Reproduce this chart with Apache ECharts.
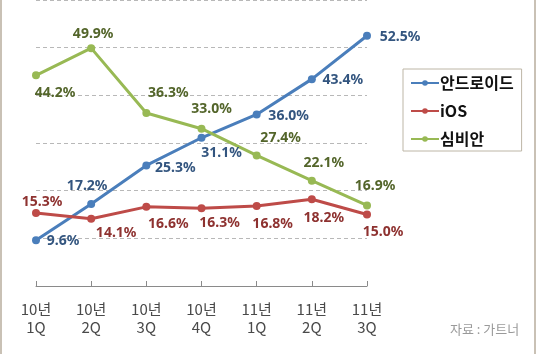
<!DOCTYPE html>
<html>
<head>
<meta charset="utf-8">
<script src="https://cdn.jsdelivr.net/npm/echarts@6/dist/echarts.min.js"></script>
<style>
    html, body { margin: 0; padding: 0; background: #ffffff; }
    #chart { width: 537px; height: 354px; }
</style>
</head>
<body>
<div id="chart"></div>
<script>
// quarters on the x axis
var quarters = ['10년\n1Q', '10년\n2Q', '10년\n3Q', '10년\n4Q', '11년\n1Q', '11년\n2Q', '11년\n3Q'];

// market share (%)
var androidShare = [9.6, 17.2, 25.3, 31.1, 36.0, 43.4, 52.5];
var iosShare = [15.3, 14.1, 16.6, 16.3, 16.8, 18.2, 15.0];
var symbianShare = [44.2, 49.9, 36.3, 33.0, 27.4, 22.1, 16.9];

var seriesNames = ['안드로이드', 'iOS', '심비안'];
var sourceText = '자료 : 가트너';

// where each value label sits relative to its point (dx, dy of label centre)
var androidLabelOffsets = [[27, 1], [-4, -18], [29, 3], [20, 15], [32, 2], [31, 1], [33, 1]];
var iosLabelOffsets = [[6, -11], [25, 14], [22, 17], [18, 15], [16, 18], [12, 19], [16, 18]];
var symbianLabelOffsets = [[19, 18], [2, -14], [22, -20], [10, -20], [24, -17], [12, -18], [8, -19]];

function buildPoints(values, offsets) {
    return values.map(function(v, i) {
        return {
            value: v,
            label: {
                offset: offsets[i]
            }
        };
    });
}

function makeSeries(name, values, offsets, lineColor, labelColor) {
    return {
        name: name,
        type: 'line',
        symbol: 'circle',
        symbolSize: 8,
        itemStyle: {
            color: lineColor
        },
        lineStyle: {
            color: lineColor,
            width: 3
        },
        label: {
            show: true,
            position: 'inside',
            color: labelColor,
            fontFamily: '"Noto Sans", sans-serif',
            fontWeight: 'bold',
            fontSize: 14,
            formatter: function(params) {
                return params.value.toFixed(1) + '%';
            }
        },
        silent: true,
        animation: false,
        data: buildPoints(values, offsets)
    };
}

var chart = echarts.init(document.getElementById('chart'), null, {
    renderer: 'canvas'
});

var chartOptions = {
    backgroundColor: '#ffffff',
    animation: false,
    grid: {
        left: 36,
        right: 170,
        top: -3,
        bottom: 68
    },
    legend: {
        orient: 'vertical',
        left: 403,
        top: 69,
        width: 118,
        padding: [6, 8, 4, 7],
        itemGap: 12,
        itemWidth: 28,
        itemHeight: 7,
        borderColor: '#bdb6a6',
        borderWidth: 1,
        data: seriesNames,
        textStyle: {
            color: '#111111',
            fontFamily: '"Noto Sans CJK KR", sans-serif',
            fontWeight: 'bold',
            fontSize: 16,
            padding: [0, 0, 0, -4]
        }
    },
    xAxis: {
        type: 'category',
        data: quarters,
        boundaryGap: false,
        axisLine: {
            lineStyle: {
                color: '#8a8a8a',
                width: 1
            }
        },
        axisTick: {
            inside: true,
            length: 5,
            lineStyle: {
                color: '#8a8a8a'
            }
        },
        axisLabel: {
            margin: 14,
            color: '#4a4a4a',
            fontFamily: '"Noto Sans CJK KR", sans-serif',
            fontSize: 15,
            lineHeight: 18
        }
    },
    yAxis: {
        type: 'value',
        min: 0,
        max: 60,
        interval: 10,
        axisLine: { show: false },
        axisTick: { show: false },
        axisLabel: { show: false },
        splitLine: {
            lineStyle: {
                color: '#b8b8b8',
                type: [4, 3],
                width: 1
            }
        }
    },
    series: [
        makeSeries(seriesNames[0], androidShare, androidLabelOffsets, '#4a7ebb', '#33557f'),
        makeSeries(seriesNames[1], iosShare, iosLabelOffsets, '#be4b48', '#8e3230'),
        makeSeries(seriesNames[2], symbianShare, symbianLabelOffsets, '#98b954', '#53652a')
    ],
    graphic: [
        {
            type: 'text',
            left: 450,
            top: 323,
            style: {
                text: sourceText,
                fill: '#9a9a9a',
                font: '13px "Noto Sans CJK KR", sans-serif'
            }
        },
        {
            type: 'line',
            shape: { x1: 1, y1: 0, x2: 1, y2: 354 },
            style: { stroke: '#c9c1b5', lineWidth: 2 }
        },
        {
            type: 'line',
            shape: { x1: 535, y1: 0, x2: 535, y2: 354 },
            style: { stroke: '#c9c1b5', lineWidth: 2 }
        }
    ]
};

chart.setOption(chartOptions);
</script>
</body>
</html>
